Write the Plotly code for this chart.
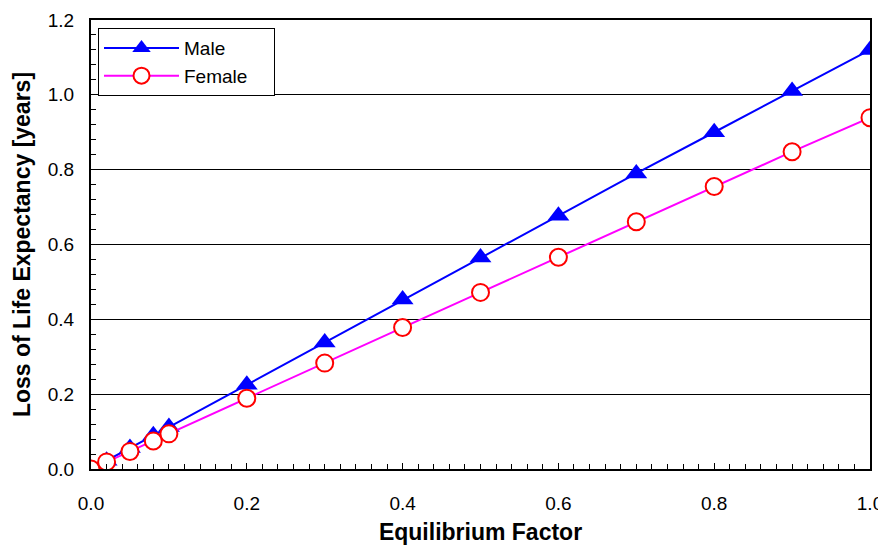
import plotly.graph_objects as go

eq_factor = [0, 0.02, 0.05, 0.08, 0.1, 0.2, 0.3, 0.4, 0.5, 0.6, 0.7, 0.8, 0.9, 1.0]
male = [0, 0.022, 0.056, 0.09, 0.112, 0.225, 0.338, 0.453, 0.565, 0.677, 0.79, 0.9, 1.01, 1.12]
female = [0, 0.019, 0.047, 0.075, 0.094, 0.189, 0.283, 0.378, 0.472, 0.566, 0.661, 0.755, 0.848, 0.939]
series_names = ["Male", "Female"]

fig = go.Figure()
fig.add_trace(go.Scatter(x=eq_factor, y=male, mode="lines+markers", name=series_names[0],
                         line=dict(color="#0000FF", width=2),
                         marker=dict(symbol="triangle-up", size=19, color="#0000FF")))
fig.add_trace(go.Scatter(x=eq_factor, y=female, mode="lines+markers", name=series_names[1] + "\u00a0" * 4,
                         line=dict(color="#FF00FF", width=2),
                         marker=dict(symbol="circle", size=17, color="white",
                                     line=dict(color="#FF0000", width=2))))

# page body adds an 8px offset, so the figure is smaller and shifted
fig.update_layout(
    width=878, height=537,
    margin=dict(l=83, r=16, t=12, b=76),
    plot_bgcolor="white", paper_bgcolor="white",
    font=dict(family="Liberation Sans, Arial", size=19, color="black"),
    legend=dict(x=0.009, y=0.982, xanchor="left", yanchor="top",
                bordercolor="black", borderwidth=1, bgcolor="white",
                font=dict(size=19), tracegroupgap=0, itemwidth=75),
    showlegend=True,
)
fig.update_xaxes(range=[0, 1.0], dtick=0.2, tickformat=".1f", automargin=False,
                 showline=True, linecolor="black", linewidth=2, mirror=True,
                 showgrid=False, zeroline=False,
                 ticks="inside", ticklen=6, tickcolor="black",
                 minor=dict(dtick=0.02, ticks="inside", ticklen=5, tickcolor="black", showgrid=False),
                 ticklabelstandoff=16, tickfont=dict(size=19),
                 title=dict(text="<b>Equilibrium Factor</b>", font=dict(size=23), standoff=16))
fig.update_yaxes(range=[0, 1.2], dtick=0.2, tickformat=".1f", automargin=False,
                 showline=True, linecolor="black", linewidth=2, mirror=True,
                 showgrid=True, gridcolor="black", gridwidth=1, zeroline=False,
                 ticks="inside", ticklen=6, tickcolor="black",
                 minor=dict(dtick=0.04, ticks="inside", ticklen=5, tickcolor="black", showgrid=False),
                 ticklabelstandoff=11, tickfont=dict(size=19),
                 title=dict(text="<b>Loss of Life Expectancy [years]</b>", font=dict(size=23), standoff=11))

fig.write_html("out.html")
